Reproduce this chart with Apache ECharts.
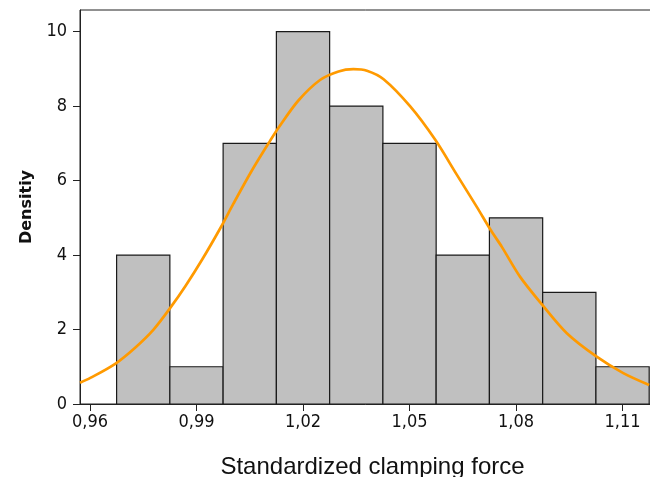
<!DOCTYPE html>
<html>
<head>
<meta charset="utf-8">
<script src="https://cdn.jsdelivr.net/npm/echarts@6/dist/echarts.min.js"></script>
<style>
  html, body { margin: 0; padding: 0; background: #fff; }
  #chart { width: 650px; height: 477px; }
</style>
</head>
<body>
<div id="chart"></div>
<script>
// histogram bins (edges) and bar heights
const binEdges = [0.9675, 0.9825, 0.9975, 1.0125, 1.0275, 1.0425, 1.0575, 1.0725, 1.0875, 1.1025, 1.1175];
const densities = [4, 1, 7, 10, 8, 7, 4, 5, 3, 1];

// fitted curve
const curveX = [0.9572, 0.9601, 0.9671, 0.9728, 0.9779, 0.9826, 0.9869, 0.9916, 0.9967, 1.0004,
                1.0056, 1.0108, 1.0131, 1.0187, 1.0248, 1.0300, 1.0342, 1.0380, 1.0427, 1.0502,
                1.0572, 1.0633, 1.0689, 1.0730, 1.0760, 1.0811, 1.0874, 1.0943, 1.1027, 1.1102, 1.1175];
const curveY = [0.57, 0.70, 1.08, 1.52, 2.00, 2.58, 3.17, 3.88, 4.72, 5.38,
                6.27, 7.08, 7.42, 8.15, 8.70, 8.93, 8.99, 8.95, 8.72, 7.99,
                7.10, 6.16, 5.30, 4.65, 4.22, 3.42, 2.66, 1.90, 1.27, 0.83, 0.51];

// tick labels of the x axis
const xTicks = [0.96, 0.99, 1.02, 1.05, 1.08, 1.11];

const bars = densities.map(function (d, i) { return [binEdges[i], binEdges[i + 1], d]; });
const curve = curveX.map(function (x, i) { return [x, curveY[i]]; });

const chart = echarts.init(document.getElementById('chart'));

const option = {
    animation: false,
    backgroundColor: '#fff',
    grid: {
        left: 80, right: -1, top: 10, bottom: 73,
        outerBoundsMode: 'none',
        containLabel: false,
        show: true,
        borderColor: '#222',
        borderWidth: 1
    },
    xAxis: {
        type: 'value',
        min: 0.95719,
        max: 1.11801,
        name: 'Standardized clamping force',
        nameLocation: 'middle',
        nameGap: 51,
        nameTextStyle: {
            fontFamily: 'Liberation Sans',
            fontSize: 24,
            color: '#111',
            padding: [0, 0, 0, 14]
        },
        splitLine: { show: false },
        axisLine: { onZero: false, lineStyle: { color: '#222', width: 1 } },
        axisTick: {
            customValues: xTicks,
            length: 7,
            lineStyle: { color: '#222' }
        },
        axisLabel: {
            customValues: xTicks,
            margin: 9,
            fontFamily: 'DejaVu Sans Condensed',
            fontSize: 18,
            color: '#111',
            formatter: function (v) { return v.toFixed(2).replace('.', ','); }
        }
    },
    yAxis: {
        type: 'value',
        min: 0,
        max: 10.58,
        interval: 2,
        name: 'Densitiy',
        nameLocation: 'middle',
        nameGap: 45,
        nameTextStyle: {
            fontFamily: 'DejaVu Sans',
            fontWeight: 'bold',
            fontSize: 16,
            color: '#111'
        },
        splitLine: { show: false },
        axisLine: { show: true, lineStyle: { color: '#222', width: 1 } },
        axisTick: { show: true, length: 7, lineStyle: { color: '#222' } },
        axisLabel: {
            margin: 13,
            showMaxLabel: false,
            fontFamily: 'DejaVu Sans Condensed',
            fontSize: 18,
            color: '#111'
        }
    },
    series: [
        {
            type: 'custom',
            data: bars,
            encode: { x: [0, 1], y: 2 },
            clip: true,
            renderItem: function (params, api) {
                const p0 = api.coord([api.value(0), api.value(2)]);
                const p1 = api.coord([api.value(1), 0]);
                return {
                    type: 'rect',
                    shape: { x: p0[0], y: p0[1], width: p1[0] - p0[0], height: p1[1] - p0[1] },
                    style: { fill: '#c0c0c0', stroke: '#1a1a1a', lineWidth: 1.2 }
                };
            }
        },
        {
            type: 'line',
            data: curve,
            smooth: 0.3,
            showSymbol: false,
            clip: true,
            lineStyle: { color: '#ff9a00', width: 2.7 },
            z: 5
        }
    ]
};

chart.setOption(option);
</script>
</body>
</html>
